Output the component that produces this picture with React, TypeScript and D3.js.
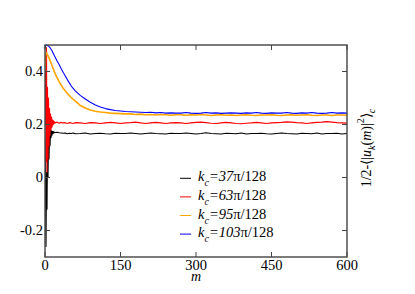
import React from "react";
import * as d3 from "d3";

// sample positions along m (dense at the start where things oscillate)
const mSteps = [
  0, 1, 2, 3, 4, 5, 6, 7, 8, 9, 10, 11, 12, 13, 14, 15, 16, 17, 18, 19, 20,
  24, 28, 32, 36, 40, 44, 48, 52, 56, 60,
  70, 80, 90, 100, 110, 120, 130, 140, 150, 160, 170, 180, 190, 200, 210, 220, 230, 240, 250, 260,
  270, 280, 290, 300, 310, 320, 330, 340, 350, 360, 370, 380, 390, 400, 410, 420, 430, 440, 450, 460,
  470, 480, 490, 500, 510, 520, 530, 540, 550, 560, 570, 580, 590, 600,
];

const k37 = [
  0.15, -0.05, -0.26, 0.02, -0.12, 0.12, 0.0, 0.15, 0.07, 0.165, 0.12, 0.178, 0.15, 0.176, 0.16, 0.174, 0.166, 0.173, 0.168, 0.171, 0.17,
  0.171, 0.169, 0.168, 0.167, 0.168, 0.165, 0.167, 0.166, 0.168, 0.165,
  0.166, 0.168, 0.164, 0.166, 0.167, 0.165, 0.164, 0.167, 0.166, 0.166,
  0.168, 0.166, 0.164, 0.166, 0.168, 0.166, 0.165, 0.164, 0.167, 0.166,
  0.166, 0.168, 0.166, 0.164, 0.166, 0.169, 0.166, 0.165, 0.164, 0.167,
  0.166, 0.165, 0.168, 0.164, 0.166, 0.166, 0.167, 0.165, 0.164, 0.166,
  0.168, 0.166, 0.165, 0.164, 0.167, 0.166, 0.165, 0.168, 0.164, 0.166,
  0.166, 0.167, 0.164, 0.166,
];

const k63 = [
  0.2, 0.42, 0.06, 0.49, 0.02, 0.34, 0.07, 0.3, 0.12, 0.26, 0.16, 0.24, 0.18, 0.228, 0.19, 0.218, 0.198, 0.214, 0.203, 0.21, 0.206,
  0.209, 0.205, 0.208, 0.206, 0.207, 0.204, 0.207, 0.206, 0.204, 0.207,
  0.206, 0.204, 0.207, 0.206, 0.204, 0.206, 0.208, 0.206, 0.204, 0.206,
  0.207, 0.209, 0.206, 0.204, 0.206, 0.208, 0.206, 0.204, 0.206, 0.207,
  0.206, 0.204, 0.206, 0.208, 0.209, 0.207, 0.205, 0.204, 0.206, 0.208,
  0.206, 0.204, 0.203, 0.205, 0.206, 0.208, 0.206, 0.204, 0.206, 0.207,
  0.208, 0.21, 0.209, 0.207, 0.206, 0.204, 0.206, 0.208, 0.209, 0.211,
  0.209, 0.207, 0.206, 0.205,
];

const k95 = [
  0.4, 0.455, 0.468, 0.47, 0.466, 0.464, 0.458, 0.456, 0.45, 0.447, 0.441, 0.438, 0.431, 0.428, 0.421, 0.418, 0.411, 0.408, 0.401, 0.398, 0.392,
  0.377, 0.362, 0.349, 0.337, 0.327, 0.318, 0.31, 0.302, 0.295, 0.289,
  0.272, 0.262, 0.255, 0.25, 0.247, 0.245, 0.243, 0.242, 0.241, 0.24,
  0.24, 0.238, 0.239, 0.237, 0.238, 0.236, 0.238, 0.237, 0.235, 0.237,
  0.237, 0.235, 0.237, 0.236, 0.238, 0.236, 0.234, 0.236, 0.237, 0.235,
  0.236, 0.234, 0.236, 0.237, 0.235, 0.234, 0.236, 0.236, 0.237, 0.235,
  0.234, 0.236, 0.237, 0.235, 0.236, 0.237, 0.235, 0.234, 0.236, 0.236,
  0.234, 0.236, 0.236, 0.235,
];

const k103 = [
  0.488, 0.499, 0.5, 0.5, 0.499, 0.498, 0.497, 0.496, 0.494, 0.492, 0.49, 0.487, 0.484, 0.481, 0.478, 0.474, 0.47, 0.466, 0.462, 0.458, 0.455,
  0.44, 0.426, 0.411, 0.397, 0.384, 0.371, 0.358, 0.346, 0.336, 0.327,
  0.31, 0.296, 0.284, 0.274, 0.266, 0.26, 0.256, 0.253, 0.251, 0.249,
  0.248, 0.247, 0.246, 0.245, 0.246, 0.244, 0.245, 0.243, 0.244, 0.243,
  0.243, 0.245, 0.243, 0.242, 0.243, 0.245, 0.243, 0.244, 0.242, 0.243,
  0.244, 0.243, 0.242, 0.244, 0.243, 0.245, 0.243, 0.242, 0.244, 0.243,
  0.243, 0.245, 0.243, 0.242, 0.244, 0.243, 0.245, 0.243, 0.242, 0.243,
  0.245, 0.243, 0.244, 0.243,
];

const seriesValues = [k37, k63, k95, k103];
const seriesNumer = ["37", "63", "95", "103"];
const seriesColors = ["#000000", "#ff0000", "#ffa500", "#0000ff"];

const xTicks = [0, 150, 300, 450, 600];
const yTicks = [-0.2, 0, 0.2, 0.4];
const yTickLabels = ["-0.2", "0", "0.2", "0.4"];

const FONT = "Times New Roman";

export default function App() {
  const w = 415;
  const h = 294;
  const left = 45;
  const right = 347;
  const top = 45;
  const bottom = 257;

  const x = d3.scaleLinear().domain([0, 600]).range([left, right]);
  const y = d3.scaleLinear().domain([-0.3, 0.5]).range([bottom, top]);

  const line = d3
    .line<number>()
    .x((d, i) => x(mSteps[i]))
    .y((d) => y(d));

  const axisColor = "#444";
  const tickLen = 5;

  return (
    <svg width={w} height={h} fontFamily={FONT} style={{ position: "absolute", left: 0, top: 0, background: "#fff" }}>
      <defs>
        <clipPath id="plot">
          <rect x={left} y={top} width={right - left} height={bottom - top} />
        </clipPath>
      </defs>

      <g clipPath="url(#plot)">
        {seriesValues.map((vals, i) => (
          <path
            key={i}
            d={line(vals) || ""}
            fill="none"
            stroke={seriesColors[i]}
            strokeWidth={i === 2 ? 1.6 : 1.1}
            strokeLinejoin="round"
          />
        ))}
      </g>

      {/* frame */}
      <rect
        x={left}
        y={top}
        width={right - left}
        height={bottom - top}
        fill="none"
        stroke={axisColor}
        strokeWidth={1.4}
      />

      {/* x ticks, bottom and top, pointing inwards */}
      {xTicks.map((t) => (
        <g key={"x" + t}>
          <line x1={x(t)} x2={x(t)} y1={bottom} y2={bottom - tickLen} stroke={axisColor} strokeWidth={1} />
          <line x1={x(t)} x2={x(t)} y1={top} y2={top + tickLen} stroke={axisColor} strokeWidth={1} />
          <text x={x(t)} y={270} fontSize={14.5} fontFamily={FONT} textAnchor="middle" fill="#000">
            {String(t)}
          </text>
        </g>
      ))}

      {/* y ticks, left and right */}
      {yTicks.map((t, i) => (
        <g key={"y" + t}>
          <line x1={left} x2={left + tickLen} y1={y(t)} y2={y(t)} stroke={axisColor} strokeWidth={1} />
          <line x1={right} x2={right - tickLen} y1={y(t)} y2={y(t)} stroke={axisColor} strokeWidth={1} />
          <text x={left - 2} y={y(t) + 4.5} fontSize={14.5} fontFamily={FONT} textAnchor="end" fill="#000">
            {yTickLabels[i]}
          </text>
        </g>
      ))}

      {/* x label */}
      <text x={x(300)} y={281} fontSize={14} fontFamily={FONT} fontStyle="italic" textAnchor="middle">
        m
      </text>

      {/* y label on the right */}
      <text transform="translate(371,148) rotate(-90)" fontSize={14} fontFamily={FONT} textAnchor="middle">
        <tspan>1/2-⟨|</tspan>
        <tspan fontStyle="italic">u</tspan>
        <tspan fontStyle="italic" fontSize={10} dy={4}>k</tspan>
        <tspan dy={-4}>(</tspan>
        <tspan fontStyle="italic">m</tspan>
        <tspan>)|</tspan>
        <tspan fontSize={10} dy={-7}>2</tspan>
        <tspan dy={7}>⟩</tspan>
        <tspan fontStyle="italic" fontSize={10} dy={4}>c</tspan>
      </text>

      {/* legend */}
      {seriesNumer.map((n, i) => {
        const ly = 178.3 + i * 18.6;
        return (
          <g key={"leg" + i}>
            <line x1={180} x2={191} y1={ly} y2={ly} stroke={seriesColors[i]} strokeWidth={1} />
            <text x={198} y={ly + 3} fontSize={14.5} fontFamily={FONT}>
              <tspan fontStyle="italic">k</tspan>
              <tspan fontStyle="italic" fontSize={10} dy={5}>c</tspan>
              <tspan fontStyle="italic" dy={-5}>{"=" + n}</tspan>
              <tspan>π/128</tspan>
            </text>
          </g>
        );
      })}
    </svg>
  );
}
